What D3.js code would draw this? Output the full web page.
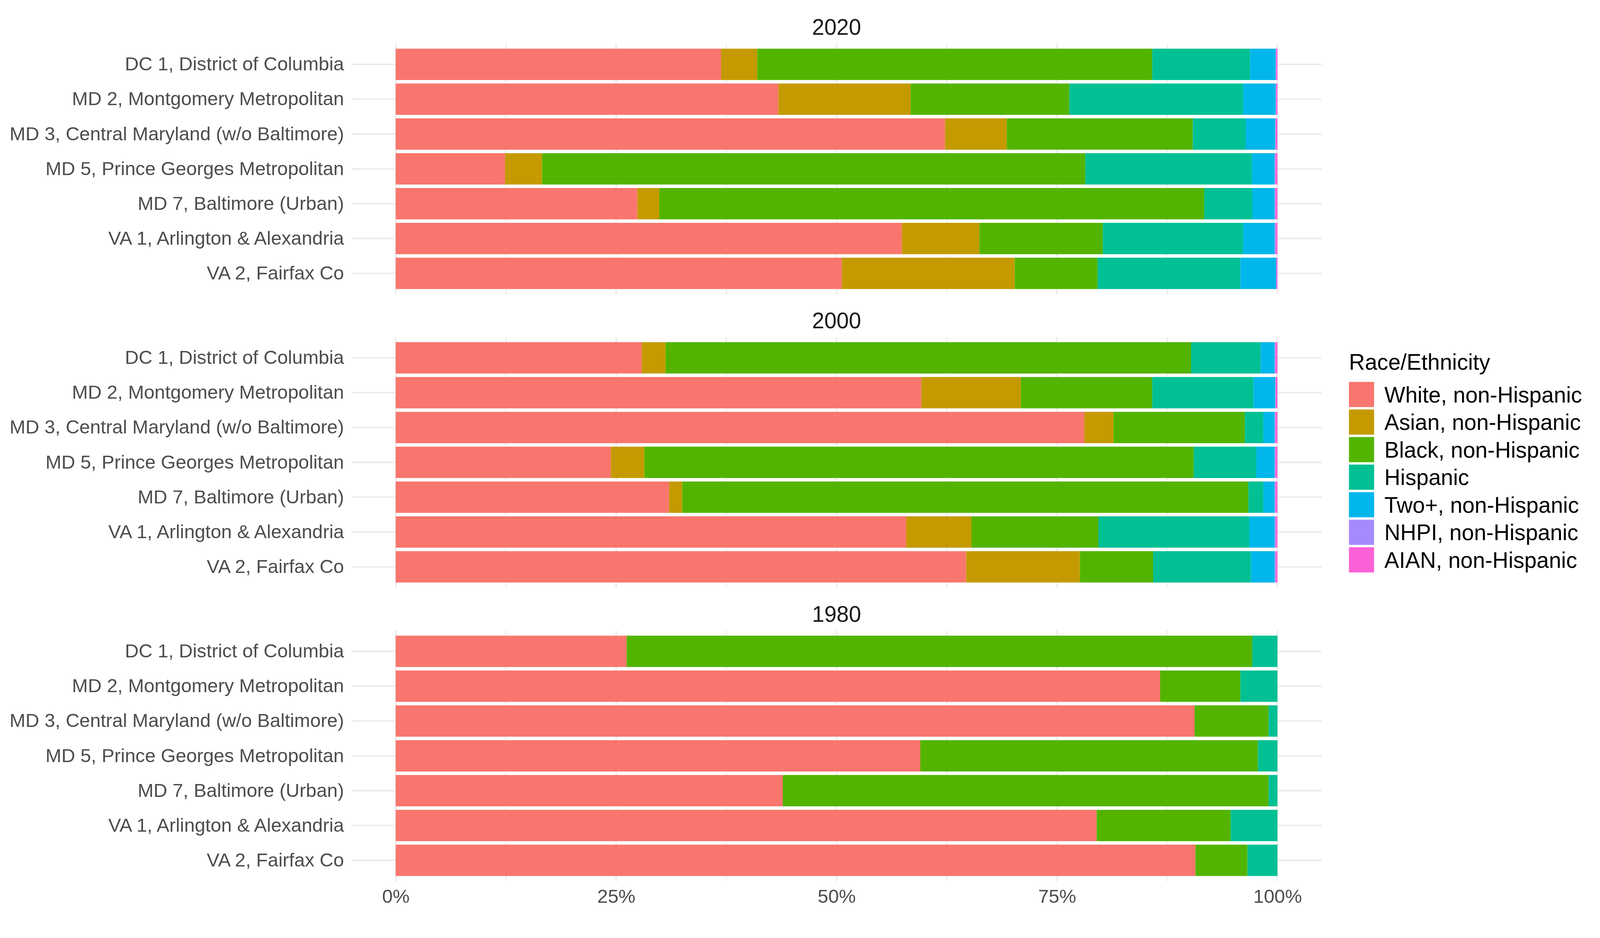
<!DOCTYPE html>
<html>
<head>
<meta charset="utf-8">
<script src="https://cdn.jsdelivr.net/npm/d3@7"></script>
<style>
  html, body { margin: 0; padding: 0; height: 100%; overflow: hidden; background: #fff; }
  #chart { display: block; width: 100vw; height: 100vh; }
  text { font-family: "Liberation Sans", Arial, Helvetica, sans-serif; }
</style>
</head>
<body>
<svg id="chart"></svg>
<script>
var width = 4200, height = 2400;

// facets, top to bottom
var years = ['2020', '2000', '1980'];

var districts = [
  'DC 1, District of Columbia',
  'MD 2, Montgomery Metropolitan',
  'MD 3, Central Maryland (w/o Baltimore)',
  'MD 5, Prince Georges Metropolitan',
  'MD 7, Baltimore (Urban)',
  'VA 1, Arlington & Alexandria',
  'VA 2, Fairfax Co'
];

var groups = [
  'White, non-Hispanic',
  'Asian, non-Hispanic',
  'Black, non-Hispanic',
  'Hispanic',
  'Two+, non-Hispanic',
  'NHPI, non-Hispanic',
  'AIAN, non-Hispanic'
];
var groupColors = ['#F8766D', '#C49A00', '#53B400', '#00C094', '#00B6EB', '#A58AFF', '#FB61D7'];

// shares in percent, one row per district, columns in groups order
var pct2020 = [
  [36.9, 4.1, 44.8, 11.1, 2.9, 0.05, 0.15],
  [43.4, 15.0, 18.0, 19.7, 3.7, 0.05, 0.15],
  [62.3, 7.0, 21.1, 6.0, 3.35, 0.05, 0.2],
  [12.4, 4.2, 61.6, 18.9, 2.6, 0.05, 0.25],
  [27.4, 2.5, 61.8, 5.45, 2.55, 0.05, 0.25],
  [57.4, 8.8, 14.0, 15.9, 3.6, 0.1, 0.2],
  [50.6, 19.6, 9.4, 16.2, 4.05, 0.05, 0.1]
];
var pct2000 = [
  [27.9, 2.7, 59.6, 7.9, 1.6, 0.05, 0.25],
  [59.6, 11.3, 14.9, 11.5, 2.45, 0.05, 0.2],
  [78.1, 3.3, 14.9, 2.1, 1.3, 0.05, 0.25],
  [24.4, 3.8, 62.3, 7.1, 2.1, 0.05, 0.25],
  [31.0, 1.5, 64.2, 1.7, 1.3, 0.05, 0.25],
  [57.9, 7.4, 14.4, 17.1, 2.9, 0.1, 0.2],
  [64.7, 12.9, 8.3, 11.1, 2.7, 0.1, 0.2]
];
var pct1980 = [
  [26.2, 0, 70.95, 2.85, 0, 0, 0],
  [86.7, 0, 9.1, 4.2, 0, 0, 0],
  [90.6, 0, 8.4, 1.0, 0, 0, 0],
  [59.5, 0, 38.3, 2.2, 0, 0, 0],
  [43.9, 0, 55.1, 1.0, 0, 0, 0],
  [79.5, 0, 15.2, 5.3, 0, 0, 0],
  [90.7, 0, 5.9, 3.4, 0, 0, 0]
];

var xMajor = [0, 0.25, 0.5, 0.75, 1];
var xMinor = [0.125, 0.375, 0.625, 0.875];

var panelData = { '2020': pct2020, '2000': pct2000, '1980': pct1980 };

var panelLeft = 923, panelRight = 3469, panelHeight = 658;
var panelTops = [114, 884, 1654];
var gridColor = '#EBEBEB';

var svg = d3.select('#chart')
  .attr('viewBox', '0 0 ' + width + ' ' + height)
  .attr('preserveAspectRatio', 'xMinYMin meet');
svg.append('rect').attr('width', width).attr('height', height).attr('fill', '#fff');

var x = d3.scaleLinear().domain([-0.05, 1.05]).range([panelLeft, panelRight]);
var color = d3.scaleOrdinal().domain(groups).range(groupColors);
var stack = d3.stack().keys(groups).offset(d3.stackOffsetExpand);

years.forEach(function(yr, i) {
  var top = panelTops[i];
  var y = d3.scaleBand()
    .domain(districts)
    .range([top, top + panelHeight])
    .paddingInner(0.1)
    .paddingOuter(0.15);

  var g = svg.append('g').attr('class', 'panel');

  // grid
  g.selectAll('.minor').data(xMinor).enter().append('line')
    .attr('x1', function(d) { return x(d); }).attr('x2', function(d) { return x(d); })
    .attr('y1', top).attr('y2', top + panelHeight)
    .attr('stroke', gridColor).attr('stroke-width', 3);
  g.selectAll('.major').data(xMajor).enter().append('line')
    .attr('x1', function(d) { return x(d); }).attr('x2', function(d) { return x(d); })
    .attr('y1', top).attr('y2', top + panelHeight)
    .attr('stroke', gridColor).attr('stroke-width', 4);
  g.selectAll('.hgrid').data(districts).enter().append('line')
    .attr('x1', panelLeft).attr('x2', panelRight)
    .attr('y1', function(d) { return y(d) + y.bandwidth() / 2; })
    .attr('y2', function(d) { return y(d) + y.bandwidth() / 2; })
    .attr('stroke', gridColor).attr('stroke-width', 4);

  var rows = panelData[yr].map(function(v, j) {
    var o = { district: districts[j] };
    groups.forEach(function(k, m) { o[k] = v[m]; });
    return o;
  });

  g.selectAll('.layer').data(stack(rows)).enter().append('g')
    .attr('fill', function(d) { return color(d.key); })
    .selectAll('rect').data(function(d) { return d; }).enter().append('rect')
    .attr('x', function(d) { return x(d[0]); })
    .attr('width', function(d) { return Math.max(0, x(d[1]) - x(d[0])); })
    .attr('y', function(d) { return y(d.data.district); })
    .attr('height', y.bandwidth());

  var yAxis = g.append('g')
    .attr('transform', 'translate(' + panelLeft + ',0)')
    .call(d3.axisLeft(y).tickSize(0).tickPadding(20));
  yAxis.select('.domain').remove();
  yAxis.attr('font-family', null).attr('font-size', 50);
  yAxis.selectAll('text').attr('fill', '#4D4D4D');

  g.append('text')
    .attr('x', (panelLeft + panelRight) / 2)
    .attr('y', top - 23)
    .attr('text-anchor', 'middle')
    .attr('font-size', 58)
    .attr('fill', '#1A1A1A')
    .text(yr);
});

var xAxis = svg.append('g')
  .attr('transform', 'translate(0,' + (panelTops[2] + panelHeight) + ')')
  .call(d3.axisBottom(x).tickValues(xMajor).tickFormat(d3.format('.0%')).tickSize(0).tickPadding(21));
xAxis.select('.domain').remove();
xAxis.attr('font-family', null).attr('font-size', 50);
xAxis.selectAll('text').attr('fill', '#4D4D4D');

// legend
var legend = svg.append('g').attr('transform', 'translate(3541,0)');
legend.append('text')
  .attr('x', 0).attr('y', 970)
  .attr('font-size', 58).attr('fill', '#000')
  .text('Race/Ethnicity');

var items = legend.selectAll('.item').data(groups).enter().append('g')
  .attr('transform', function(d, i) { return 'translate(0,' + (1002 + i * 72.3) + ')'; });
items.append('rect')
  .attr('width', 66).attr('height', 66)
  .attr('fill', function(d) { return color(d); });
items.append('text')
  .attr('x', 93).attr('y', 33).attr('dy', '0.36em')
  .attr('font-size', 58).attr('fill', '#000')
  .text(function(d) { return d; });
</script>
</body>
</html>
